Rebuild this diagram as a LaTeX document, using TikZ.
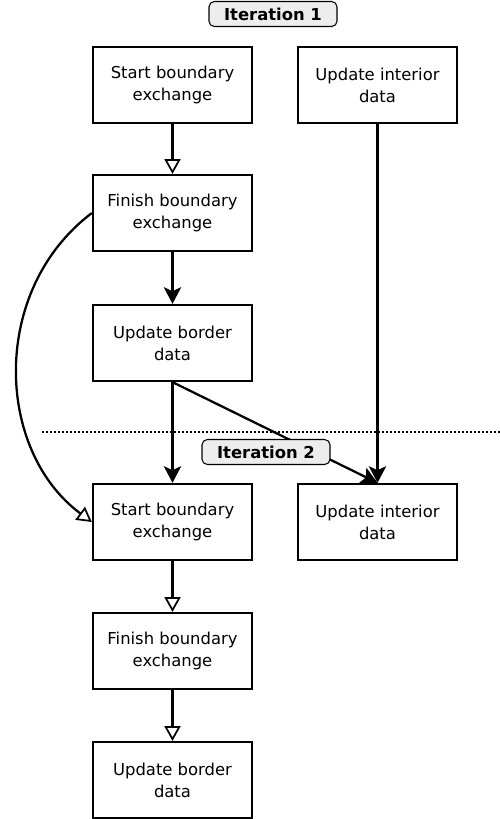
\documentclass[tikz,border=0pt]{standalone}
\usepackage{fontspec}
\setmainfont{DejaVu Sans}
\usetikzlibrary{arrows.meta}

\begin{document}
\begin{tikzpicture}[x=0.75pt, y=-0.75pt, line width=1.7pt,
    font=\fontsize{12.3}{16.5}\selectfont]
    \tikzstyle{task}=[rectangle, draw, minimum width=119.25pt, minimum height=57pt, inner sep=0pt, align=center]
    \tikzstyle{iter}=[rectangle, rounded corners=4pt, draw, line width=0.8pt, fill=black!7, minimum width=96pt, minimum height=18.75pt, inner sep=0pt, font=\fontsize{12.3}{14}\selectfont\bfseries]
    \tikzstyle{open}=[-{Triangle[open, length=11pt, width=12pt, line width=1.3pt]}]
    \tikzstyle{full}=[-{Stealth[length=12.5pt, width=13pt, inset=3pt]}]

    \useasboundingbox (0,0) rectangle (500,819);

    % iteration 1
    \node[iter] (it1) at (273,14) {Iteration 1};
    \node[task] (s1) at (172.5,85) {Start boundary\\exchange};
    \node[task] (u1) at (377.5,85) {Update interior\\data};
    \node[task] (f1) at (172.5,213) {Finish boundary\\exchange};
    \node[task] (b1) at (172.5,343) {Update border\\data};

    % iteration 2
    \coordinate (d1) at (42,432);
    \coordinate (d2) at (500,432);
    \draw[line width=1.5pt, dash pattern=on 1.5pt off 1.5pt] (d1) -- (d2);
    \node[task] (s2) at (172.5,522) {Start boundary\\exchange};
    \node[task] (u2) at (377.5,522) {Update interior\\data};
    \node[task] (f2) at (172.5,651) {Finish boundary\\exchange};
    \node[task] (b2) at (172.5,780) {Update border\\data};

    \draw[open] (s1) -- (f1);
    \draw[full] (f1) -- (b1);
    \draw[full] (b1) -- (s2);
    \draw[full] (u1) -- (u2);
    \draw[full] (b1.south) -- (u2.north);
    \draw[open] (f1.west) .. controls (-10,290) and (-5,450) .. (s2.west);
    \draw[open] (s2) -- (f2);
    \draw[open] (f2) -- (b2);

    \node[iter] (it2) at (266,452) {Iteration 2};
\end{tikzpicture}
\end{document}
